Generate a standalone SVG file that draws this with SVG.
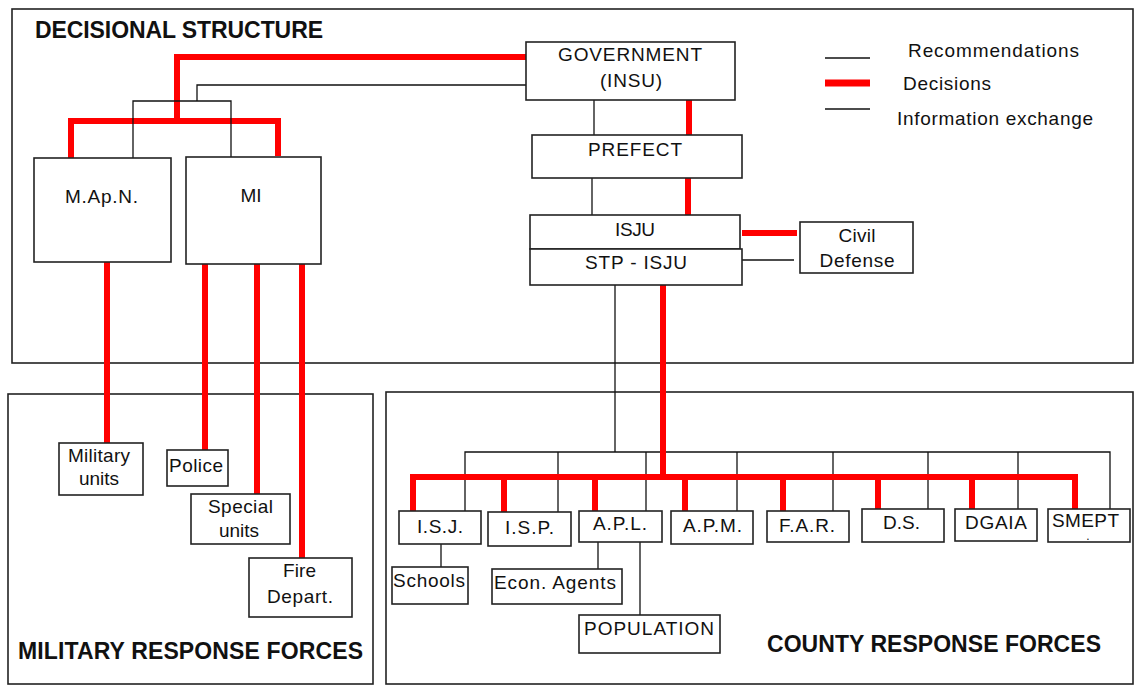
<svg xmlns="http://www.w3.org/2000/svg" width="1135" height="685" viewBox="0 0 1135 685">
<style>
.frame{fill:none;stroke:#222;stroke-width:1.6}
.box{fill:#fff;stroke:#222;stroke-width:1.6}
.blk{fill:none;stroke:#111;stroke-width:1.3}
.red{fill:none;stroke:#ff0000;stroke-width:6}
text{font-family:"Liberation Sans",Arial,sans-serif;fill:#111}
.lbl{font-size:19px;text-anchor:middle}
.leg{font-size:19px}
.title{font-size:23px;font-weight:bold}
</style>
<rect width="1135" height="685" fill="#fff"/>
<g id="frames">
<rect class="frame" x="12" y="9" width="1121" height="354"/>
<rect class="frame" x="8" y="394" width="365" height="290"/>
<rect class="frame" x="386" y="392" width="747" height="292"/>
<text class="title" x="35" y="38" textLength="288" lengthAdjust="spacing">DECISIONAL STRUCTURE</text>
<text class="title" x="18" y="659" textLength="345" lengthAdjust="spacing">MILITARY RESPONSE FORCES</text>
<text class="title" x="767" y="652" textLength="334" lengthAdjust="spacing">COUNTY RESPONSE FORCES</text>
</g>
<g id="legend">
<line class="blk" x1="825" y1="58" x2="870" y2="58"/>
<line x1="825" y1="83" x2="870" y2="83" stroke="#ff0000" stroke-width="7"/>
<line class="blk" x1="825" y1="109" x2="870" y2="109"/>
<text class="leg" x="908" y="57" textLength="171" lengthAdjust="spacing">Recommendations</text>
<text class="leg" x="903" y="90" textLength="88" lengthAdjust="spacing">Decisions</text>
<text class="leg" x="897" y="125" textLength="196" lengthAdjust="spacing">Information exchange</text>
</g>
<g id="connectors">
<polyline class="red" points="526,57 177,57 177,121"/>
<polyline class="red" points="71,158 71,121 278,121 278,156"/>
<polyline class="blk" points="526,85 197,85 197,101"/>
<polyline class="blk" points="133,158 133,101 231,101 231,157"/>
<line class="blk" x1="594" y1="100" x2="594" y2="135"/>
<line class="red" x1="689" y1="100" x2="689" y2="135"/>
<line class="blk" x1="592" y1="178" x2="592" y2="215"/>
<line class="red" x1="688" y1="178" x2="688" y2="215"/>
<line class="red" x1="742" y1="233" x2="797" y2="233"/>
<line class="blk" x1="740" y1="260" x2="794" y2="260"/>
<line class="red" x1="107" y1="262" x2="107" y2="443"/>
<line class="red" x1="205" y1="264" x2="205" y2="450"/>
<line class="red" x1="257" y1="264" x2="257" y2="494"/>
<line class="red" x1="302" y1="264" x2="302" y2="558"/>
<line class="blk" x1="615" y1="285" x2="615" y2="452"/>
<polyline class="blk" points="465,511 465,452 1110,452 1110,509"/>
<line class="blk" x1="558" y1="452" x2="558" y2="512"/>
<line class="blk" x1="646" y1="452" x2="646" y2="511"/>
<line class="blk" x1="737" y1="452" x2="737" y2="511"/>
<line class="blk" x1="833" y1="452" x2="833" y2="511"/>
<line class="blk" x1="928" y1="452" x2="928" y2="509"/>
<line class="blk" x1="1018" y1="452" x2="1018" y2="509"/>
<line class="red" x1="663" y1="285" x2="663" y2="477"/>
<polyline class="red" points="413,511 413,477 1075,477 1075,509"/>
<line class="red" x1="504" y1="477" x2="504" y2="512"/>
<line class="red" x1="595" y1="477" x2="595" y2="511"/>
<line class="red" x1="685" y1="477" x2="685" y2="511"/>
<line class="red" x1="783" y1="477" x2="783" y2="511"/>
<line class="red" x1="878" y1="477" x2="878" y2="509"/>
<line class="red" x1="972" y1="477" x2="972" y2="509"/>
<line class="blk" x1="441" y1="544" x2="441" y2="567"/>
<line class="blk" x1="598" y1="542" x2="598" y2="569"/>
<line class="blk" x1="640" y1="542" x2="640" y2="615"/>
</g>
<g id="government">
<rect class="box" x="526" y="42" width="209" height="58"/>
<text class="lbl" x="630" y="61" textLength="144" lengthAdjust="spacing">GOVERNMENT</text>
<text class="lbl" x="631" y="87" textLength="62" lengthAdjust="spacing">(INSU)</text>
</g>
<g id="prefect">
<rect class="box" x="532" y="135" width="210" height="43"/>
<text class="lbl" x="635" y="156" textLength="94" lengthAdjust="spacing">PREFECT</text>
</g>
<g id="isju">
<rect class="box" x="530" y="215" width="210" height="34"/>
<text class="lbl" x="635" y="236" textLength="40" lengthAdjust="spacing">ISJU</text>
</g>
<g id="stp-isju">
<rect class="box" x="530" y="249" width="212" height="36"/>
<text class="lbl" x="636" y="269" textLength="102" lengthAdjust="spacing">STP - ISJU</text>
</g>
<g id="civil-defense">
<rect class="box" x="800" y="222" width="113" height="51"/>
<text class="lbl" x="857" y="242" textLength="37" lengthAdjust="spacing">Civil</text>
<text class="lbl" x="857" y="267" textLength="75" lengthAdjust="spacing">Defense</text>
</g>
<g id="mapn">
<rect class="box" x="34" y="158" width="137" height="104"/>
<text class="lbl" x="101.5" y="203" textLength="73" lengthAdjust="spacing">M.Ap.N.</text>
</g>
<g id="mi">
<rect class="box" x="186" y="157" width="135" height="107"/>
<text class="lbl" x="251" y="202" textLength="21" lengthAdjust="spacing">MI</text>
</g>
<g id="military-units">
<rect class="box" x="59" y="443" width="84" height="52"/>
<text class="lbl" x="99" y="462" textLength="62" lengthAdjust="spacing">Military</text>
<text class="lbl" x="99" y="485" textLength="40" lengthAdjust="spacing">units</text>
</g>
<g id="police">
<rect class="box" x="167" y="450" width="61" height="36"/>
<text class="lbl" x="196" y="472" textLength="54" lengthAdjust="spacing">Police</text>
</g>
<g id="special-units">
<rect class="box" x="191" y="494" width="99" height="50"/>
<text class="lbl" x="240.5" y="513" textLength="65" lengthAdjust="spacing">Special</text>
<text class="lbl" x="239" y="537" textLength="40" lengthAdjust="spacing">units</text>
</g>
<g id="fire-depart">
<rect class="box" x="249" y="558" width="103" height="59"/>
<text class="lbl" x="299.5" y="577" textLength="33" lengthAdjust="spacing">Fire</text>
<text class="lbl" x="300" y="603" textLength="66" lengthAdjust="spacing">Depart.</text>
</g>
<g id="isj">
<rect class="box" x="399" y="511" width="82" height="33"/>
<text class="lbl" x="440" y="533" textLength="46" lengthAdjust="spacing">I.S.J.</text>
</g>
<g id="isp">
<rect class="box" x="488" y="512" width="83" height="34"/>
<text class="lbl" x="529.5" y="534" textLength="49" lengthAdjust="spacing">I.S.P.</text>
</g>
<g id="apl">
<rect class="box" x="579" y="511" width="83" height="31"/>
<text class="lbl" x="620" y="530" textLength="54" lengthAdjust="spacing">A.P.L.</text>
</g>
<g id="apm">
<rect class="box" x="671" y="511" width="82" height="33"/>
<text class="lbl" x="712.5" y="532" textLength="59" lengthAdjust="spacing">A.P.M.</text>
</g>
<g id="far">
<rect class="box" x="767" y="511" width="82" height="31"/>
<text class="lbl" x="807" y="532" textLength="56" lengthAdjust="spacing">F.A.R.</text>
</g>
<g id="ds">
<rect class="box" x="862" y="509" width="82" height="33"/>
<text class="lbl" x="901.5" y="529" textLength="37" lengthAdjust="spacing">D.S.</text>
</g>
<g id="dgaia">
<rect class="box" x="955" y="509" width="82" height="32"/>
<text class="lbl" x="996" y="529" textLength="62" lengthAdjust="spacing">DGAIA</text>
</g>
<g id="smept">
<rect class="box" x="1048" y="509" width="82" height="33"/>
<text class="lbl" x="1085.5" y="527" textLength="67" lengthAdjust="spacing">SMEPT</text>
<text class="lbl" x="1088" y="540" style="font-size:12px">.</text>
</g>
<g id="schools">
<rect class="box" x="392" y="567" width="76" height="37"/>
<text class="lbl" x="429" y="587" textLength="72" lengthAdjust="spacing">Schools</text>
</g>
<g id="econ-agents">
<rect class="box" x="492" y="569" width="130" height="35"/>
<text class="lbl" x="555" y="589" textLength="122" lengthAdjust="spacing">Econ. Agents</text>
</g>
<g id="population">
<rect class="box" x="579" y="615" width="141" height="38"/>
<text class="lbl" x="649" y="635" textLength="130" lengthAdjust="spacing">POPULATION</text>
</g>
</svg>
